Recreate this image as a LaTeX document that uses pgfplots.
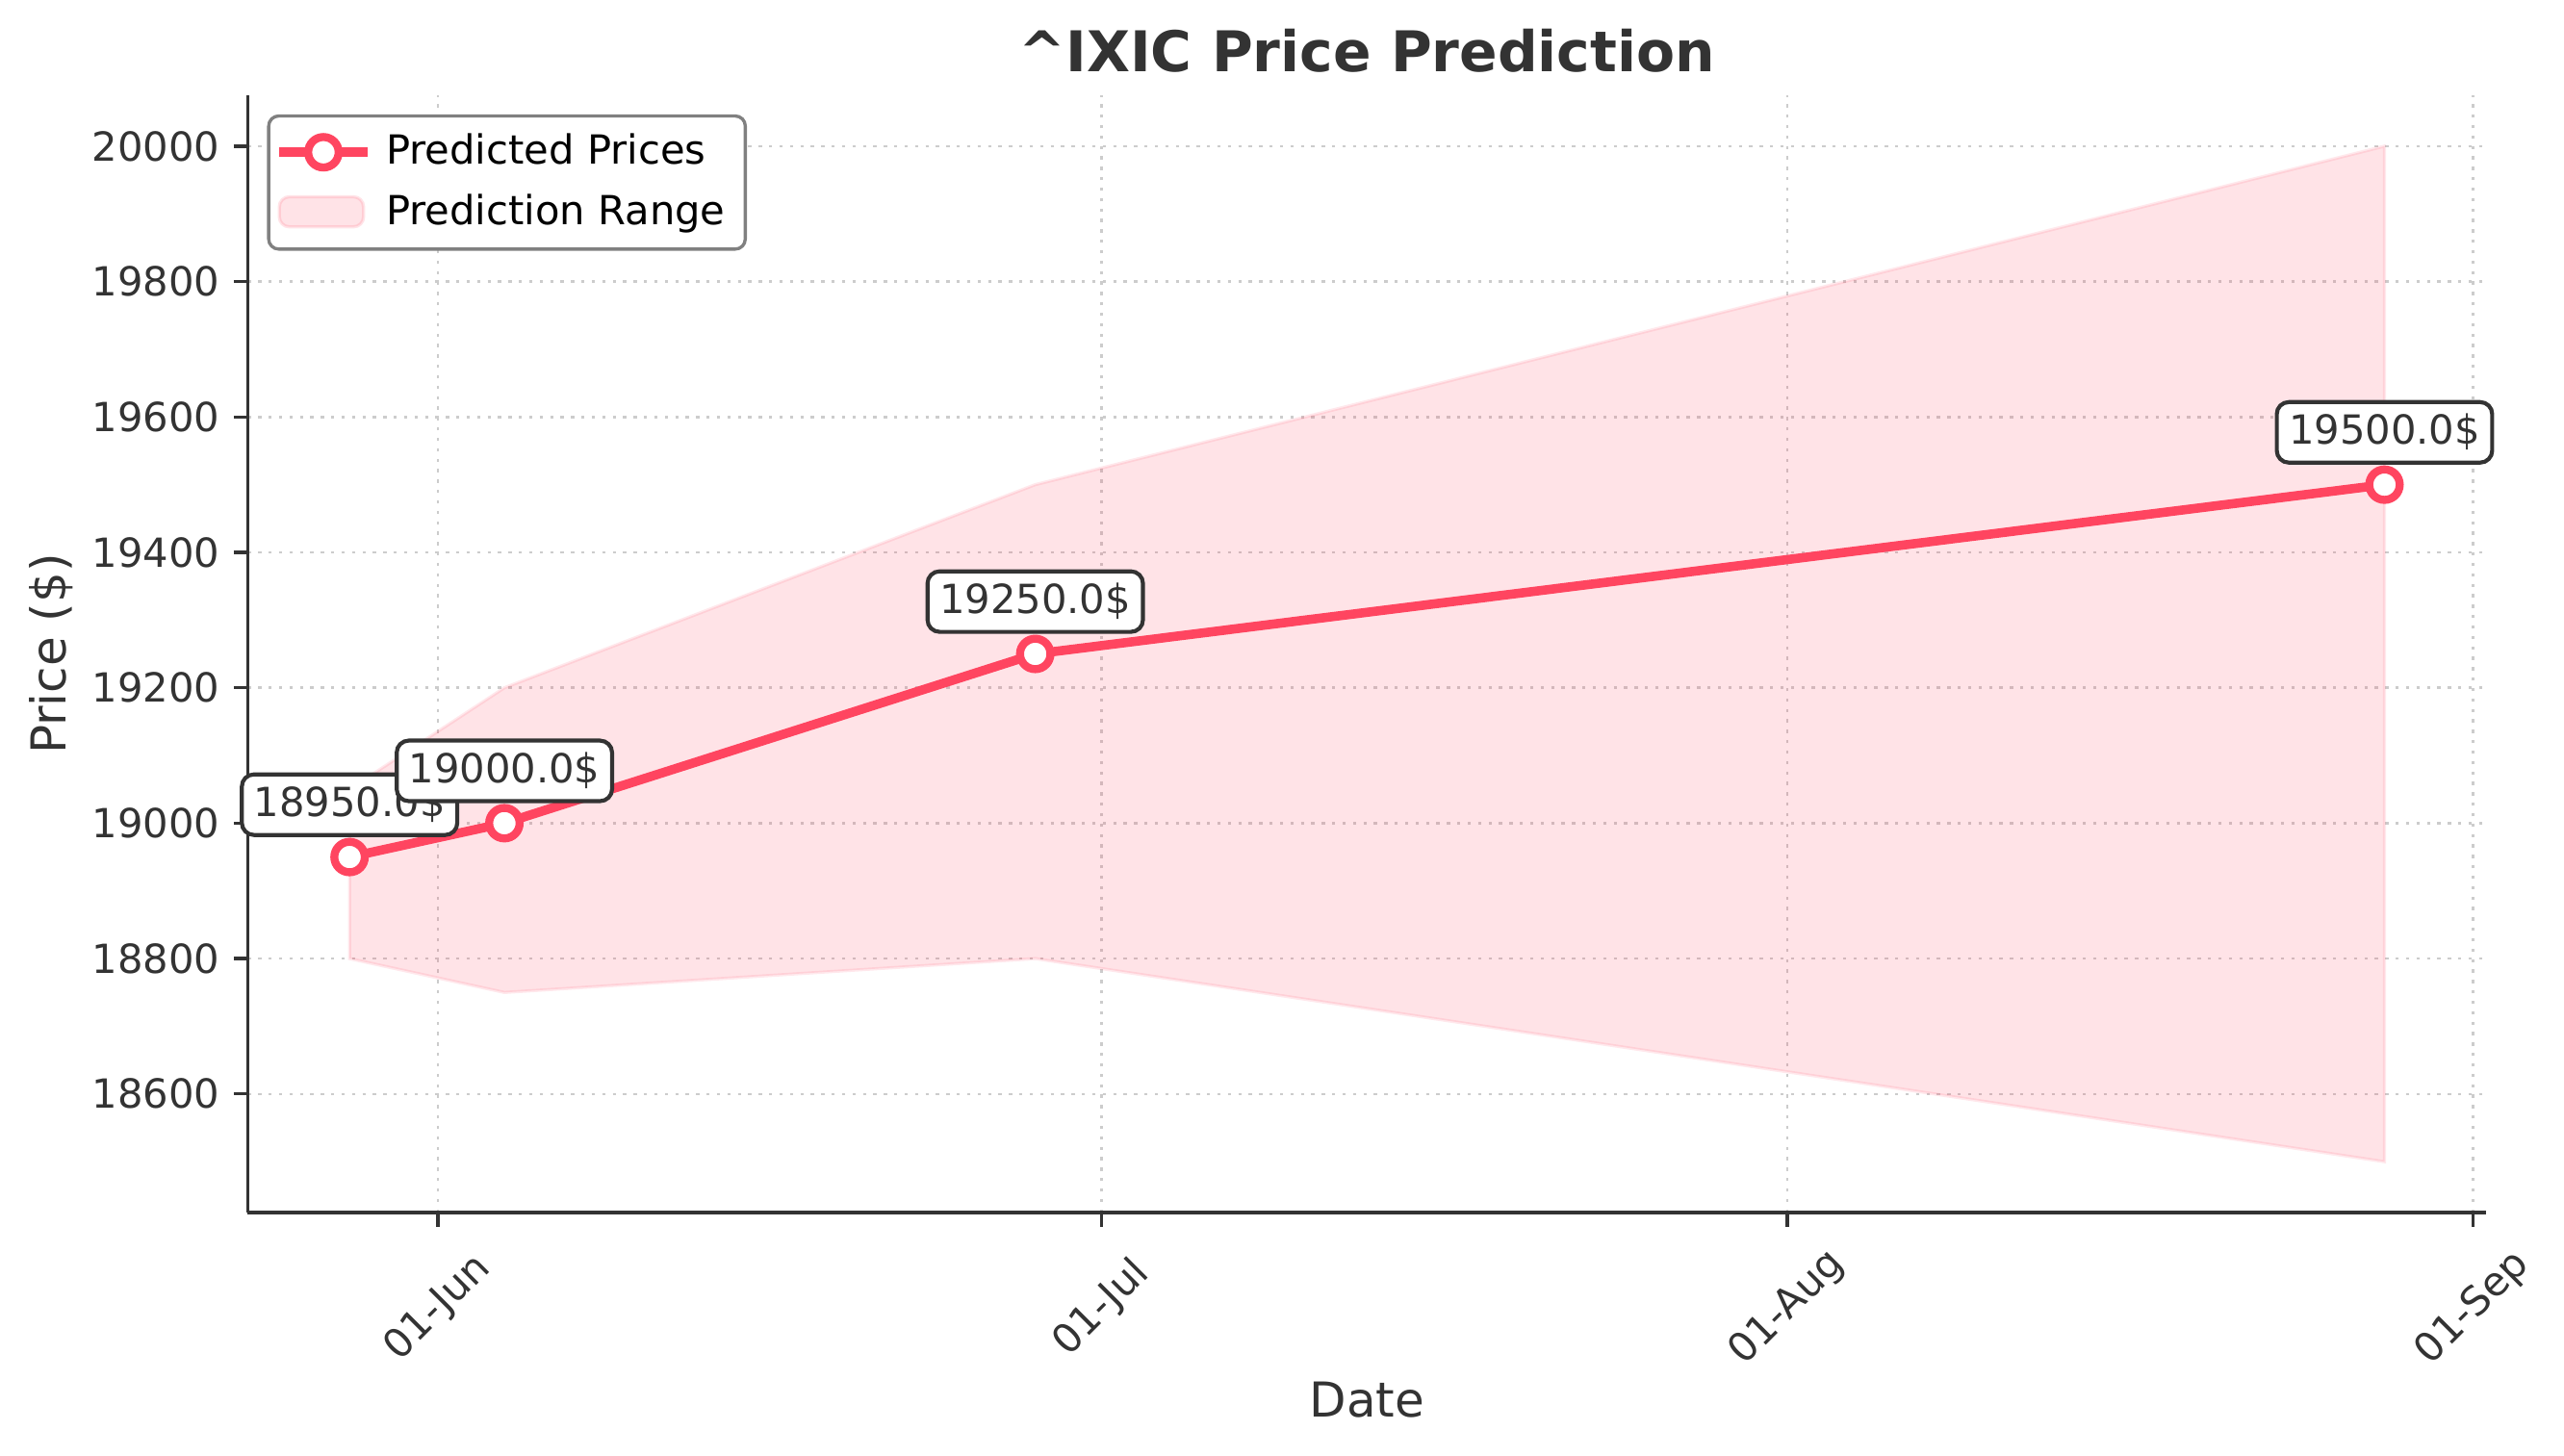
\documentclass[border=0pt]{standalone}
\usepackage{fontspec}
\setmainfont{DejaVu Sans}
\usepackage{pgfplots}
\pgfplotsset{compat=1.18}
\definecolor{pred}{HTML}{FF4560}
\definecolor{txt}{HTML}{333333}
\newcommand\tenpt{\fontsize{10}{12}\selectfont}
\pgfplotsset{
  mark line legend/.style={
    legend image code/.code={
      \draw[mark repeat=2,mark phase=2,##1] plot coordinates {(0pt,0pt) (11pt,0pt) (22pt,0pt)};
    },
  },
  band legend/.style={
    legend image code/.code={
      \draw[##1] (0pt,-3.5pt) rectangle (21pt,4pt);
    },
  },
}
\begin{document}
\begin{tikzpicture}
\begin{axis}[
  name=ax,
  scale only axis,
  width=558.2pt, height=278.6pt,
  xmin=-8.6, xmax=92.6,
  ymin=18425, ymax=20075,
  axis x line*=bottom,
  axis y line*=left,
  axis line style={txt, line width=0.8pt},
  tick align=outside,
  major tick length=3.5pt,
  tick style={txt, line width=0.8pt},
  xtick={0,30,61,92},
  xticklabels={01-Jun,01-Jul,01-Aug,01-Sep},
  ytick={18600,18800,...,20000},
  scaled y ticks=false,
  tick label style={font=\tenpt, text=txt},
  yticklabel style={/pgf/number format/1000 sep={}, /pgf/number format/assume math mode=true},
  xticklabel style={yshift=-20.4pt, rotate=45, anchor=center},
  grid=major,
  major grid style={gray!40, line width=0.6pt, dash pattern=on 0.8pt off 1.8pt},
  title={\textasciicircum IXIC Price Prediction},
  every axis title/.style={at={(axis description cs:0.5,1)}, anchor=base, yshift=5.8pt,
    font=\bfseries\fontsize{14}{17}\selectfont, text=txt},
  xlabel={Date},
  ylabel={Price (\$)},
  every axis x label/.style={at={(axis description cs:0.5,-0.183)}, anchor=base,
    font=\fontsize{12}{14}\selectfont, text=txt},
  every axis y label/.style={at={(axis description cs:-0.0878,0.5)}, rotate=90, anchor=center,
    font=\fontsize{12}{14}\selectfont, text=txt},
  legend style={at={(0.0086,0.983)}, anchor=north west, draw=gray, line width=0.8pt,
    rounded corners=2.5pt, fill=white, font=\tenpt, inner xsep=1.5pt, inner ysep=2.5pt,
    row sep=2pt, nodes={inner xsep=3.5pt}},
  legend cell align=left,
]
  % prediction range
  \addplot[fill=pred, fill opacity=0.15, draw=pred, draw opacity=0.12, line width=0.8pt, forget plot]
    coordinates {
      (-4, 19050)
      (3, 19200)
      (27, 19500)
      (88, 20000)
      (88, 18500)
      (27, 18800)
      (3, 18750)
      (-4, 18800)
    } -- cycle;
  % predicted prices
  \addplot[mark line legend, pred, line width=2.3pt, mark=*, mark size=3.8pt,
    mark options={fill=white, draw=pred, line width=2pt},
    point meta=y,
    nodes near coords={\pgfmathprintnumber[fixed,fixed zerofill,precision=1,1000 sep={},assume math mode=true]{\pgfplotspointmeta}\$},
    every node near coord/.append style={anchor=south, yshift=5pt, fill=white, draw=txt,
      line width=1pt, rounded corners=3pt, inner xsep=3pt, inner ysep=3pt, text=txt,
      font=\tenpt, text height=7.6pt, text depth=1.5pt, fill opacity=1, draw opacity=1},
  ] coordinates {
    (-4, 18950)
    (3, 19000)
    (27, 19250)
    (88, 19500)
  };
  \addlegendentry{Predicted Prices}
  \addlegendimage{band legend, fill=pred, fill opacity=0.15, draw=pred, draw opacity=0.15, line width=0.8pt}
  \addlegendentry{Prediction Range}
\end{axis}
\pgfresetboundingbox
\path[use as bounding box] ([shift={(-61.8pt,-60.7pt)}]ax.south west)
  rectangle ([shift={(19.4pt,23.8pt)}]ax.north east);
\end{tikzpicture}
\end{document}
